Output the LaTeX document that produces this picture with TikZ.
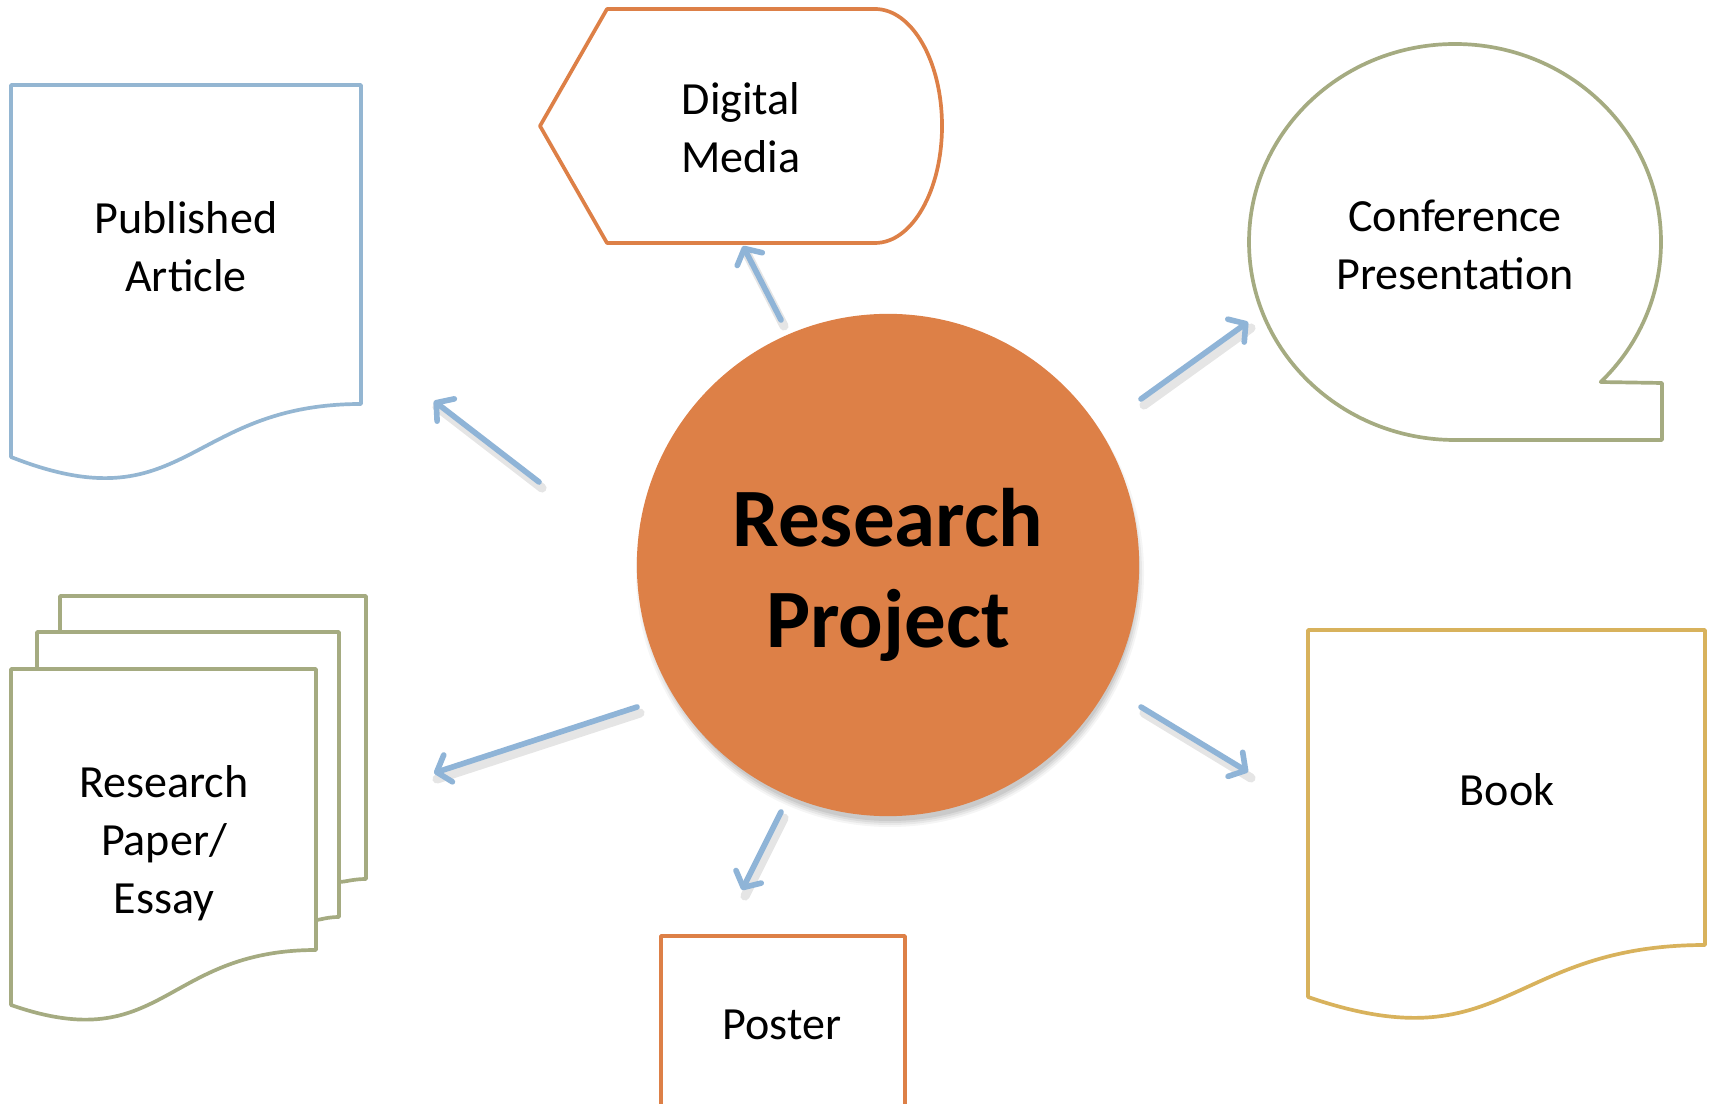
\documentclass[tikz,border=0pt]{standalone}
\usepackage{fontspec}
\setmainfont{Carlito}
\usetikzlibrary{arrows.meta}
\definecolor{mblue}{HTML}{94B6D2}
\definecolor{morange}{HTML}{DD8047}
\definecolor{mgreen}{HTML}{A5AB81}
\definecolor{mgold}{HTML}{D8B25C}
\definecolor{arrblue}{HTML}{8FB4D7}
\tikzset{
  shapeline/.style={line width=1.05pt, line join=round, fill=white},
  lbl/.style={align=center, inner sep=0pt, text=black, font=\fontsize{13.1}{16.5}\selectfont},
  biglbl/.style={align=center, inner sep=0pt, text=black, font=\fontsize{23.6}{28.5}\selectfont\bfseries},
  conn/.style={draw=arrblue, line width=1.6pt, line cap=round, -{Straight Barb[length=3.4pt,width=8pt,round]}},
  connshadow/.style={draw=black, opacity=0.10, line width=2.6pt, line cap=round}
}
\begin{document}
\begin{tikzpicture}[x=0.01cm,y=-0.01cm]
\useasboundingbox (0,0) rectangle (1713,1104);
\clip (0,0) rectangle (1713,1104);
\fill[white] (0,0) rectangle (1713,1104);

% Published Article (document)
\draw[shapeline, draw=mblue] (11,85) -- (361,85) -- (361,404)
  .. controls (186,404) and (186,526) .. (11,457) -- cycle;
\node[lbl] (pub) at (186,247) {Published\\Article};

% Digital Media (display)
\draw[shapeline, draw=morange] (540,126) -- (607,9) -- (875,9)
  arc[start angle=-90, end angle=90, x radius=67, y radius=117]
  -- (607,243) -- cycle;
\node[lbl] (dig) at (741,128) {Digital\\Media};

% Conference Presentation (magnetic tape)
\draw[shapeline, draw=mgreen] (1455,440)
  arc[start angle=90, end angle=405, x radius=206, y radius=198]
  -- (1662,383) -- (1662,440) -- cycle;
\node[lbl] (conf) at (1455,245) {Conference\\Presentation};

% Research Paper / Essay (multidocument)
\draw[shapeline, draw=mgreen] (60,632) -- (60,596) -- (366,596) -- (366,879)
  .. controls (353,879) and (345,882) .. (339,882);
\draw[shapeline, draw=mgreen] (37,669) -- (37,632) -- (339,632) -- (339,917)
  .. controls (327,917) and (320,920) .. (316,920);
\draw[shapeline, draw=mgreen] (11,669) -- (316,669) -- (316,950)
  .. controls (163,950) and (163,1058) .. (11,1005) -- cycle;
\node[lbl] (paper) at (164,843) {Research\\Paper/\\Essay};

% Book (document)
\draw[shapeline, draw=mgold] (1308,630) -- (1705,630) -- (1705,945)
  .. controls (1506,945) and (1506,1065) .. (1308,997) -- cycle;
\node[lbl] (book) at (1507,790) {Book};

% Poster
\draw[shapeline, draw=morange] (661,1120) -- (661,936) -- (905,936) -- (905,1120);
\node[lbl] (poster) at (782,1025) {Poster};

% Central circle with soft shadow
\foreach \k/\o in {0/0.04,1/0.05,2/0.06,3/0.07} {
  \fill[black, opacity=\o] (890,573) circle[radius={254-2*\k}];
}
\node[circle, fill=morange, minimum size=5.02cm, inner sep=0pt] (rp) at (888,565) {};
\node[biglbl] (rptext) at (888,575) {Research\\Project};

% Arrow end points
\coordinate (s1) at (539,482); \coordinate (e1) at (434,401);
\coordinate (s2) at (781,320); \coordinate (e2) at (743,246);
\coordinate (s3) at (1141,399); \coordinate (e3) at (1248,322);
\coordinate (s4) at (637,707); \coordinate (e4) at (434,773);
\coordinate (s5) at (781,812); \coordinate (e5) at (742,890);
\coordinate (s6) at (1141,707); \coordinate (e6) at (1248,772);

\foreach \i in {1,...,6} {
  \draw[connshadow] ([shift={(3,6)}]s\i) -- ([shift={(3,6)}]e\i);
}
\foreach \i in {1,...,6} {
  \draw[conn] (s\i) -- (e\i);
}
\end{tikzpicture}
\end{document}
